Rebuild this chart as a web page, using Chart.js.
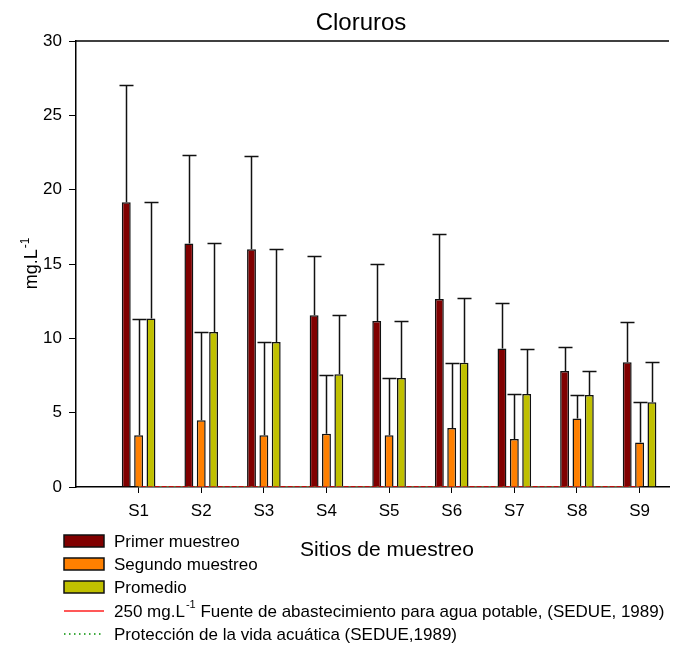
<!DOCTYPE html>
<html lang="es">
<head>
  <meta charset="UTF-8">
  <title>Cloruros</title>
  <script src="https://cdn.jsdelivr.net/npm/chart.js"></script>
  <style>
    body { margin: 0; background: #fff; }
  </style>
</head>
<body>
<canvas id="cloruros" width="695" height="647"></canvas>

<script>
  // Datos de cloruros por sitio (mg/L)
  const sitios = ['S1', 'S2', 'S3', 'S4', 'S5', 'S6', 'S7', 'S8', 'S9'];
  const primerMuestreo = [19.16, 16.38, 16.0, 11.56, 11.17, 12.65, 9.31, 7.81, 8.39];
  const segundoMuestreo = [3.48, 4.49, 3.48, 3.59, 3.48, 3.97, 3.23, 4.60, 2.99];
  const promedio = [11.33, 10.43, 9.76, 7.59, 7.34, 8.35, 6.26, 6.19, 5.70];
  const desviacion = [7.85, 5.95, 6.26, 3.97, 3.84, 4.36, 3.05, 1.61, 2.70];
  const limiteAguaPotable = [0, 0, 0, 0, 0, 0, 0, 0, 0];
  const limiteVidaAcuatica = [0, 0, 0, 0, 0, 0, 0, 0, 0];
  const ticksY = [0, 5, 10, 15, 20, 25, 30];

  const FUENTE = '"Liberation Sans", Arial, sans-serif';
  const porSitio = arr => arr.map((v, i) => ({ x: i + 1, y: v }));

  // barras de error hacia arriba
  const barrasError = {
    id: 'barrasError',
    afterDatasetsDraw(chart) {
      const { ctx, scales: { y } } = chart;
      ctx.save();
      ctx.strokeStyle = '#111';
      ctx.lineWidth = 1.5;
      chart.data.datasets.forEach((ds, di) => {
        if (!ds.error) return;
        chart.getDatasetMeta(di).data.forEach((bar, i) => {
          const x = Math.round(bar.x) + 0.5;
          const top = Math.round(y.getPixelForValue(ds.data[i].y + ds.error[i])) + 0.5;
          ctx.beginPath();
          ctx.moveTo(x, bar.y);
          ctx.lineTo(x, top);
          ctx.moveTo(x - 7, top);
          ctx.lineTo(x + 7, top);
          ctx.stroke();
        });
      });
      ctx.restore();
    }
  };

  // marco superior, títulos y leyenda
  const textos = {
    id: 'textos',
    afterDraw(chart) {
      const { ctx, chartArea: a } = chart;
      ctx.save();
      ctx.strokeStyle = '#000';
      ctx.lineWidth = 1.5;
      ctx.beginPath();
      ctx.moveTo(a.left, a.top);
      ctx.lineTo(a.right, a.top);
      ctx.stroke();

      ctx.fillStyle = '#000';
      ctx.textBaseline = 'middle';
      ctx.textAlign = 'center';
      ctx.font = '24px ' + FUENTE;
      ctx.fillText('Cloruros', 361, 23);
      ctx.font = '21px ' + FUENTE;
      ctx.fillText('Sitios de muestreo', 387, 550);

      // título del eje y: mg.L^-1
      ctx.save();
      ctx.translate(37, 264);
      ctx.rotate(-Math.PI / 2);
      ctx.textBaseline = 'alphabetic';
      ctx.textAlign = 'left';
      ctx.font = '18px ' + FUENTE;
      const base = 'mg.L';
      const wBase = ctx.measureText(base).width;
      ctx.font = '12px ' + FUENTE;
      const wSup = ctx.measureText('-1').width;
      const x0 = -(wBase + wSup) / 2;
      ctx.font = '18px ' + FUENTE;
      ctx.fillText(base, x0, 0);
      ctx.font = '12px ' + FUENTE;
      ctx.fillText('-1', x0 + wBase + 1, -8);
      ctx.restore();

      // leyenda
      ctx.textAlign = 'left';
      ctx.textBaseline = 'middle';
      const filas = [541, 564, 587, 611, 634];
      const cajas = [
        ['#800000', 'Primer muestreo'],
        ['#FF8000', 'Segundo muestreo'],
        ['#C0C000', 'Promedio']
      ];
      cajas.forEach(([color, texto], k) => {
        const yc = filas[k];
        ctx.fillStyle = color;
        ctx.fillRect(64, yc - 6, 40, 12);
        ctx.strokeStyle = '#111';
        ctx.lineWidth = 1.5;
        ctx.strokeRect(64, yc - 6, 40, 12);
        ctx.fillStyle = '#000';
        ctx.font = '17px ' + FUENTE;
        ctx.fillText(texto, 114, yc + 1);
      });

      ctx.strokeStyle = '#FF2020';
      ctx.lineWidth = 1.5;
      ctx.beginPath();
      ctx.moveTo(64, filas[3]);
      ctx.lineTo(104, filas[3]);
      ctx.stroke();
      ctx.strokeStyle = '#009000';
      ctx.lineWidth = 1.5;
      ctx.setLineDash([1.5, 3.5]);
      ctx.beginPath();
      ctx.moveTo(64, filas[4]);
      ctx.lineTo(104, filas[4]);
      ctx.stroke();
      ctx.setLineDash([]);

      ctx.fillStyle = '#000';
      ctx.font = '17px ' + FUENTE;
      let x = 114;
      ctx.fillText('250 mg.L', x, filas[3] + 1);
      x += ctx.measureText('250 mg.L').width;
      ctx.font = '11px ' + FUENTE;
      ctx.fillText('-1', x + 1, filas[3] - 6);
      x += ctx.measureText('-1').width + 1;
      ctx.font = '17px ' + FUENTE;
      ctx.fillText(' Fuente de abastecimiento para agua potable, (SEDUE, 1989)', x, filas[3] + 1);
      ctx.fillText('Protección de la vida acuática (SEDUE,1989)', 114, filas[4] + 1);
      ctx.restore();
    }
  };

  const barra = (label, data, color) => ({
    type: 'bar',
    label,
    data: porSitio(data),
    error: desviacion,
    backgroundColor: color,
    borderColor: '#111',
    borderWidth: 1.5,
    barPercentage: 0.72,
    categoryPercentage: 0.592,
    order: 1
  });

  new Chart(document.getElementById('cloruros'), {
    type: 'bar',
    data: {
      datasets: [
        barra('Primer muestreo', primerMuestreo, '#800000'),
        barra('Segundo muestreo', segundoMuestreo, '#FF8000'),
        barra('Promedio', promedio, '#C0C000'),
        {
          type: 'line',
          label: '250 mg.L-1 Fuente de abastecimiento para agua potable, (SEDUE, 1989)',
          data: porSitio(limiteAguaPotable),
          borderColor: '#FF1010',
          borderWidth: 1.5,
          pointRadius: 0,
          order: 6
        },
        {
          type: 'line',
          label: 'Protección de la vida acuática (SEDUE,1989)',
          data: porSitio(limiteVidaAcuatica),
          borderColor: '#40a040',
          borderWidth: 1.5,
          borderDash: [2, 5],
          pointRadius: 0,
          order: 5
        }
      ]
    },
    options: {
      responsive: false,
      animation: false,
      layout: { padding: { top: 41, right: 26, left: 0, bottom: 0 } },
      plugins: { legend: { display: false }, tooltip: { enabled: false } },
      scales: {
        x: {
          type: 'linear',
          min: 0,
          max: 9.47,
          offset: false,
          afterBuildTicks: scale => { scale.ticks = sitios.map((_, i) => ({ value: i + 1 })); },
          afterFit: scale => { scale.height = 160; },
          ticks: {
            callback: v => sitios[v - 1],
            autoSkip: false,
            maxRotation: 0,
            padding: 8,
            color: '#000',
            font: { family: FUENTE, size: 17 }
          },
          grid: { offset: false, drawOnChartArea: false, tickLength: 6, color: '#000' },
          border: { color: '#000', width: 1.5 }
        },
        y: {
          min: 0,
          max: 30,
          afterBuildTicks: scale => { scale.ticks = ticksY.map(v => ({ value: v })); },
          afterFit: scale => { scale.width = 76; },
          ticks: {
            padding: 7,
            color: '#000',
            font: { family: FUENTE, size: 17 }
          },
          grid: { drawOnChartArea: false, tickLength: 7, color: '#000' },
          border: { color: '#000', width: 1.5 }
        }
      }
    },
    plugins: [barrasError, textos]
  });
</script>
</body>
</html>
